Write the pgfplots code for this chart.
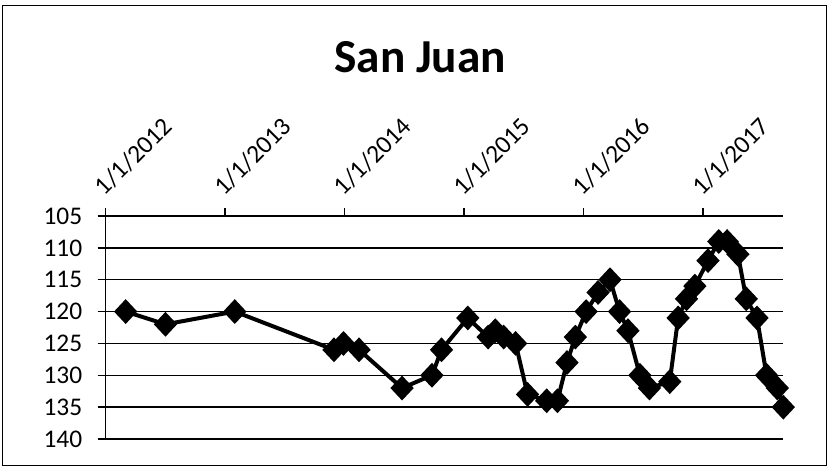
\documentclass[border=0pt]{standalone}
\usepackage{pgfplots}
\pgfplotsset{compat=1.18}
\usepackage{fontspec}
\setmainfont{Carlito}
\begin{document}
\begin{tikzpicture}
\useasboundingbox (-105.7bp,-29bp) rectangle (723.3bp,439bp);
\draw[line width=1bp] (-102.7bp,-26bp) rectangle (720.5bp,433bp);
\begin{axis}[
  at={(0,0)}, anchor=south west,
  scale only axis, width=677.6bp, height=223bp,
  xmin=2012, xmax=2017.67, ymin=105, ymax=140,
  y dir=reverse,
  axis x line*=top, axis y line*=left,
  axis line style={black, line width=1.5bp, -},
  xtick={2012,2013,2014,2015,2016,2017},
  xticklabels={1/1/2012,1/1/2013,1/1/2014,1/1/2015,1/1/2016,1/1/2017},
  ytick={105,110,...,140},
  ymajorgrids, major grid style={black, line width=1.5bp},
  tick style={black, line width=1.5bp},
  tick align=outside, major tick length=8bp,
  ticklabel style={font=\fontsize{25.5}{25.5}\selectfont},
  xticklabel style={rotate=45, anchor=south west, xshift=4bp, yshift=4bp},
  yticklabel style={anchor=east, xshift=-12bp},
  /pgf/number format/assume math mode=true,
  clip=false,
]
\addplot[black, line width=4bp, mark=diamond*, mark size=9.5bp, mark options={solid, xscale=1.25}] coordinates {
(2012.167,120) (2012.50,122) (2013.08,120) (2013.91,126) (2013.99,125) (2014.12,126)
(2014.48,132) (2014.73,130) (2014.81,126) (2015.03,121) (2015.20,124) (2015.26,123)
(2015.33,124) (2015.43,125) (2015.53,133) (2015.69,134) (2015.78,134) (2015.86,128)
(2015.93,124) (2016.02,120) (2016.12,117) (2016.22,115) (2016.30,120) (2016.37,123)
(2016.47,130) (2016.55,132) (2016.72,131) (2016.79,121) (2016.86,118) (2016.93,116)
(2017.04,112) (2017.13,109) (2017.20,109) (2017.29,111) (2017.36,118) (2017.45,121)
(2017.53,130) (2017.62,132) (2017.67,135)
};
\end{axis}
\node[font=\fontsize{47.5}{47.5}\selectfont\bfseries] at (314.5bp,382bp) {San Juan};
\end{tikzpicture}
\end{document}
